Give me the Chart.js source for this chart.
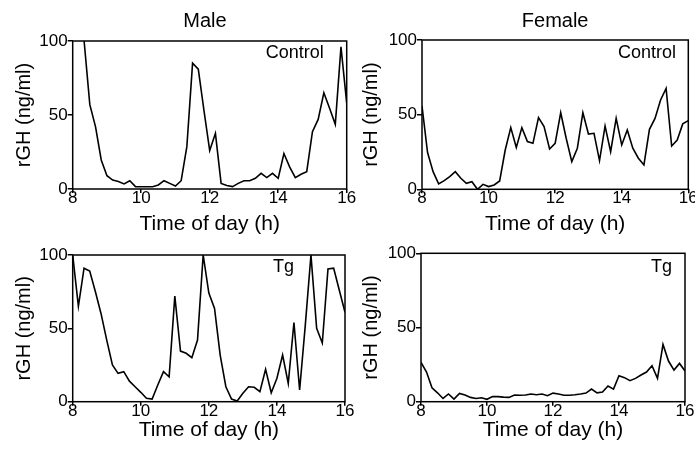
<!DOCTYPE html>
<html><head><meta charset="utf-8">
<script src="https://cdn.jsdelivr.net/npm/chart.js@4.4.1/dist/chart.umd.min.js"></script>
<style>
html,body{margin:0;padding:0;background:#fff;overflow:hidden;width:695px;height:449px;position:relative;}
canvas{position:absolute;}
</style></head><body>
<canvas id="c1" width="360" height="245" style="left:0px;top:0px;width:360px;height:245px"></canvas>
<canvas id="c2" width="360" height="245" style="left:350px;top:0px;width:360px;height:245px"></canvas>
<canvas id="c3" width="360" height="224" style="left:0px;top:225px;width:360px;height:224px"></canvas>
<canvas id="c4" width="360" height="224" style="left:350px;top:225px;width:360px;height:224px"></canvas>
<script>
// Time of day (h), sampled every 10 min from 8:00 to 16:00
const times = [8.000, 8.167, 8.333, 8.500, 8.667, 8.833, 9.000, 9.167, 9.333, 9.500,
  9.667, 9.833, 10.000, 10.167, 10.333, 10.500, 10.667, 10.833, 11.000, 11.167,
  11.333, 11.500, 11.667, 11.833, 12.000, 12.167, 12.333, 12.500, 12.667, 12.833,
  13.000, 13.167, 13.333, 13.500, 13.667, 13.833, 14.000, 14.167, 14.333, 14.500,
  14.667, 14.833, 15.000, 15.167, 15.333, 15.500, 15.667, 15.833, 16.000];

// rGH (ng/ml)
const maleControl = [130, 115, 100, 57, 42, 19.6, 9, 6, 5, 3.4,
  5.6, 1.6, 1.5, 1.5, 1.5, 2.7, 5.6, 3.8, 2, 5.6,
  28.6, 85, 81, 53, 26, 37.6, 3.8, 2.3, 1.6, 3.8,
  5.6, 5.6, 7.2, 10.6, 7.7, 10.6, 7.2, 24, 15, 7.7,
  10, 11.7, 38.7, 47, 65, 54.5, 43.7, 96, 58];
const femaleControl = [55.8, 24.6, 11.8, 3.6, 5.8, 8.5, 11.8, 7.4, 4, 5.1,
  0, 3.3, 1.8, 2.9, 5.6, 26.3, 41.3, 28, 41.3, 32,
  30.8, 48, 42, 27, 30.8, 51.3, 34, 18.5, 27.5, 51.3,
  37, 37.5, 19.2, 42.4, 25.2, 47.5, 29.7, 39.7, 27.5, 20.8,
  16.3, 40.2, 47.5, 59.8, 67.6, 29, 33, 43.8, 46];
const maleTg = [100, 65, 91, 89, 75, 60, 42, 25, 19.3, 20.5,
  14, 10.2, 6.4, 2.3, 1.8, 11.4, 20.5, 17, 72, 34.5,
  33, 30, 42, 100, 74, 63.6, 31.8, 10.2, 1.8, 0.5,
  5.7, 10.2, 9.8, 6.8, 22, 6.1, 16, 31.8, 12.5, 54,
  8, 52, 100, 50, 40, 90.5, 91, 76, 61];
const femaleTg = [26.5, 20, 9.4, 6, 2.2, 5.2, 1.8, 5.6, 4.5, 2.9,
  2.2, 2.7, 1.6, 3.4, 3.4, 3.1, 2.9, 4.5, 4.3, 4.5,
  5.2, 4.7, 5.2, 4, 5.8, 5.2, 4.3, 4.3, 4.7, 5.2,
  5.8, 8.5, 6, 6.5, 10.6, 8.5, 17.5, 16.2, 14.2, 15.7,
  18, 20, 24.3, 15.7, 38.6, 27.4, 21.3, 25.8, 20.7];

const xTicks = [8, 10, 12, 14, 16];
const yTicks = [0, 50, 100];
const columnTitles = ['Male', 'Female'];
const groupLabels = ['Control', 'Tg'];
const xTitle = 'Time of day (h)';
const yTitle = 'rGH (ng/ml)';

const FONT = '"Liberation Sans", Arial, Helvetica, sans-serif';
Chart.defaults.color = '#000';
Chart.defaults.font.family = FONT;

const framePlugin = {
  id: 'frame',
  afterDatasetsDraw(chart, args, opts) {
    const {ctx, chartArea: a, scales} = chart;
    ctx.save();
    ctx.strokeStyle = '#000';
    ctx.lineWidth = 1.5;
    ctx.strokeRect(a.left, a.top, a.right - a.left, a.bottom - a.top);
    ctx.fillStyle = '#000';
    ctx.textAlign = 'center';
    ctx.textBaseline = 'middle';
    if (opts.label) {
      ctx.font = '18px ' + FONT;
      ctx.fillText(opts.label, scales.x.getPixelForValue(opts.lx), scales.y.getPixelForValue(opts.ly));
    }
    if (opts.title) {
      ctx.font = '20px ' + FONT;
      ctx.fillText(opts.title, scales.x.getPixelForValue(opts.tx), a.top - opts.tdy);
    }
    ctx.restore();
  }
};

function makePanel(id, series, cfg) {
  const {cl, ct, cw, ch, L, R, T, B, title, tx, tdy, label, lx, ly, xtPad, ytPad} = cfg;
  const points = times.map((t, i) => ({x: t, y: series[i]}));
  new Chart(document.getElementById(id), {
    type: 'line',
    data: {datasets: [{data: points, borderColor: '#000', borderWidth: 1.6, pointRadius: 0, tension: 0, fill: false}]},
    plugins: [framePlugin],
    options: {
      responsive: false,
      animation: false,
      events: [],
      layout: {padding: {left: 0, top: T - ct, right: cl + cw - R, bottom: 0}},
      plugins: {
        legend: {display: false},
        tooltip: {enabled: false},
        title: {display: false},
        frame: {label, lx, ly, title, tx, tdy}
      },
      scales: {
        x: {
          type: 'linear', min: 8, max: 16,
          afterBuildTicks: s => { s.ticks = xTicks.map(v => ({value: v})); },
          afterFit: s => { s.height = ct + ch - B; s.paddingLeft = 0; s.paddingRight = 0; },
          grid: {display: true, drawOnChartArea: false, drawTicks: true, tickLength: 4, color: '#000', lineWidth: 1.5},
          border: {display: false},
          ticks: {padding: -3, maxRotation: 0, autoSkip: false, color: '#000', font: {size: 17, lineHeight: 1}},
          title: {display: true, text: xTitle, color: '#000', font: {size: 21, lineHeight: 1.2}, padding: {top: 0, bottom: xtPad}}
        },
        y: {
          min: 0, max: 100,
          afterBuildTicks: s => { s.ticks = yTicks.map(v => ({value: v})); },
          afterFit: s => { s.width = L - cl; s.paddingTop = 0; s.paddingBottom = 0; },
          grid: {display: true, drawOnChartArea: false, drawTicks: true, tickLength: 5, color: '#000', lineWidth: 1.5},
          border: {display: false},
          ticks: {padding: 0, color: '#000', font: {size: 17, lineHeight: 1}},
          title: {display: true, text: yTitle, color: '#000', font: {size: 20, lineHeight: 1.2}, padding: {top: ytPad, bottom: 0}}
        }
      }
    }
  });
}

makePanel('c1', maleControl, {cl: 0, ct: 0, cw: 360, ch: 245, L: 72.7, R: 346.7, T: 41, B: 189,
  title: columnTitles[0], tx: 11.86, tdy: 20, label: groupLabels[0], lx: 14.48, ly: 91.7, xtPad: 8.4, ytPad: 12});
makePanel('c2', femaleControl, {cl: 350, ct: 0, cw: 360, ch: 245, L: 422, R: 688.3, T: 40, B: 189.3,
  title: columnTitles[1], tx: 12.0, tdy: 19, label: groupLabels[0], lx: 14.76, ly: 91.5, xtPad: 8.4, ytPad: 9});
makePanel('c3', maleTg, {cl: 0, ct: 225, cw: 360, ch: 224, L: 72.7, R: 345, T: 255, B: 401.7,
  title: null, label: groupLabels[1], lx: 14.19, ly: 91.5, xtPad: 6.4, ytPad: 12});
makePanel('c4', femaleTg, {cl: 350, ct: 225, cw: 360, ch: 224, L: 421, R: 685, T: 253.3, B: 401.7,
  title: null, label: groupLabels[1], lx: 15.29, ly: 90.6, xtPad: 6.4, ytPad: 9});
</script>
</body></html>
